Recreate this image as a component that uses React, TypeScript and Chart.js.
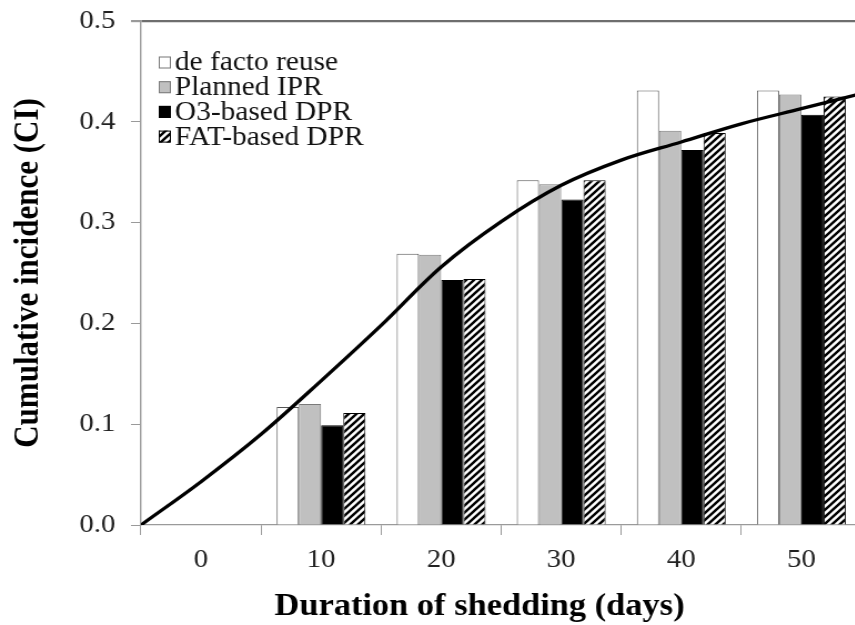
import React, { useEffect, useRef } from "react";
import { Chart, registerables } from "chart.js";

Chart.register(...registerables);

const categories = ["0", "10", "20", "30", "40", "50"];
const categoryDays = [0, 10, 20, 30, 40, 50];
const deFacto = [null, 0.117, 0.269, 0.342, 0.431, 0.431];
const plannedIPR = [null, 0.12, 0.268, 0.338, 0.391, 0.427];
const o3DPR = [null, 0.099, 0.243, 0.323, 0.372, 0.407];
const fatDPR = [null, 0.111, 0.244, 0.342, 0.389, 0.425];

const curveDays = [-5, 0, 5, 10, 15, 20, 25, 30, 35, 40, 45, 50, 55];
const curveCI = [0, 0.043, 0.09, 0.143, 0.198, 0.256, 0.301, 0.337, 0.362, 0.38, 0.398, 0.413, 0.428];

const yTicks = [0, 0.1, 0.2, 0.3, 0.4, 0.5];
const seriesNames = ["de facto reuse", "Planned IPR", "O3-based DPR", "FAT-based DPR"];
const xTitle = "Duration of shedding (days)";
const yTitle = "Cumulative incidence (CI)";

const STRETCH = 1.11;
const CW = 784;
const CH = 625;
const SERIF = "'Liberation Serif', 'Times New Roman', serif";

function makeHatch(): CanvasPattern | string {
  const c = document.createElement("canvas");
  c.width = 7;
  c.height = 7;
  const g = c.getContext("2d");
  if (!g) return "#888";
  g.fillStyle = "#fff";
  g.fillRect(0, 0, 7, 7);
  g.strokeStyle = "#000";
  g.lineWidth = 2.4;
  g.beginPath();
  g.moveTo(-2, 9);
  g.lineTo(9, -2);
  g.moveTo(-2, 2);
  g.lineTo(2, -2);
  g.moveTo(5, 9);
  g.lineTo(9, 5);
  g.stroke();
  const p = g.createPattern(c, "repeat");
  return p || "#888";
}

export default function App() {
  const ref = useRef<HTMLCanvasElement | null>(null);

  useEffect(() => {
    if (!ref.current) return;
    const hatch = makeHatch();
    const fills: any[] = ["#ffffff", "#c0c0c0", "#000000", hatch];
    const borders = ["#555555", "#7a7a7a", "#000000", "#000000"];

    const legendPlugin = {
      id: "boxLegend",
      afterDraw(chart: any) {
        const ctx = chart.ctx;
        ctx.save();
        ctx.font = `26.5px ${SERIF}`;
        ctx.textBaseline = "middle";
        ctx.textAlign = "left";
        for (let i = 0; i < seriesNames.length; i++) {
          const cy = 62.5 + i * 24.7;
          const bx = 143;
          const bw = 11;
          const bh = 12;
          ctx.fillStyle = fills[i];
          ctx.fillRect(bx, cy - bh / 2, bw, bh);
          ctx.lineWidth = 1;
          ctx.strokeStyle = i === 0 ? "#777" : borders[i];
          ctx.strokeRect(bx + 0.5, cy - bh / 2 + 0.5, bw - 1, bh - 1);
          ctx.fillStyle = "#111";
          ctx.fillText(seriesNames[i], 157.5, cy + 1);
        }
        // x-axis title
        ctx.font = `bold 31px ${SERIF}`;
        ctx.fillStyle = "#000";
        ctx.textAlign = "center";
        ctx.fillText(xTitle, 432, 607);
        ctx.restore();
      },
    };

    const seriesVals = [deFacto, plannedIPR, o3DPR, fatDPR];
    const barDs = seriesVals.map((vals, i) => ({
      type: "bar" as const,
      label: seriesNames[i],
      data: categoryDays
        .map((d, k) => ({ x: d, y: vals[k] }))
        .filter((p) => p.y !== null),
      backgroundColor: fills[i],
      borderColor: borders[i],
      borderWidth: 1,
      xAxisID: "xLin",
      yAxisID: "y",
      order: 2,
      categoryPercentage: 0.74,
      barPercentage: 1.0,
    }));

    const lineDs = {
      type: "line" as const,
      label: "CI curve",
      data: curveDays.map((d, i) => ({ x: d, y: curveCI[i] })),
      borderColor: "#000",
      borderWidth: 3.3,
      pointRadius: 0,
      fill: false,
      tension: 0.35,
      xAxisID: "xLin",
      yAxisID: "y",
      order: 0,
    };

    const chart = new Chart(ref.current, {
      type: "bar",
      data: {
        labels: categories,
        datasets: [...barDs, lineDs] as any,
      },
      plugins: [legendPlugin],
      options: {
        animation: false,
        responsive: false,
        devicePixelRatio: 1,
        layout: { padding: { top: 21, right: 8, left: 0, bottom: 0 } },
        plugins: {
          legend: { display: false },
          tooltip: { enabled: false },
        },
        scales: {
          x: {
            type: "category",
            offset: true,
            grid: {
              offset: true,
              drawOnChartArea: false,
              drawTicks: true,
              tickLength: 10,
              color: "#9a9a9a",
              tickColor: "#9a9a9a",
            },
            border: { color: "#9a9a9a", width: 1.2 },
            ticks: {
              font: { family: SERIF, size: 26 },
              color: "#222",
              padding: 10,
              maxRotation: 0,
            },
            title: { display: false },
            afterFit: (scale: any) => {
              scale.height = 100;
              scale.paddingLeft = 0;
              scale.paddingRight = 0;
            },
          } as any,
          xLin: {
            type: "linear",
            min: -5,
            max: 55,
            offset: false,
            display: false,
            grid: { offset: false },
            afterBuildTicks: (scale: any) => {
              scale.ticks = categoryDays.map((v) => ({ value: v }));
            },
          } as any,
          y: {
            min: 0,
            max: 0.5,
            afterBuildTicks: (scale: any) => {
              scale.ticks = yTicks.map((v) => ({ value: v }));
            },
            grid: {
              drawOnChartArea: true,
              tickLength: 9,
              color: (c: any) => (c.tick && Math.abs(c.tick.value - 0.5) < 1e-6 ? "#6e6e6e" : "rgba(0,0,0,0)"),
              lineWidth: (c: any) => (c.tick && Math.abs(c.tick.value - 0.5) < 1e-6 ? 2.2 : 1),
              tickColor: "#9a9a9a",
            },
            border: { color: "#9a9a9a", width: 1.4 },
            ticks: {
              font: { family: SERIF, size: 26 },
              color: "#222",
              padding: 14,
              callback: (v: any) => Number(v).toFixed(1),
            },
            title: {
              display: true,
              text: yTitle,
              font: { family: SERIF, size: 31, weight: "bold" },
              color: "#000",
              padding: { top: 7.5, bottom: 0 },
            },
            afterFit: (scale: any) => {
              scale.width = 127;
              scale.paddingTop = 0;
              scale.paddingBottom = 0;
            },
          } as any,
        },
      },
    });
    return () => chart.destroy();
  }, []);

  return (
    <div
      style={{
        position: "fixed",
        left: 0,
        top: 0,
        width: 855,
        height: 625,
        overflow: "hidden",
        background: "#fff",
      }}
    >
      <div style={{ transform: `scaleX(${STRETCH})`, transformOrigin: "0 0", width: CW, height: CH }}>
        <canvas ref={ref} width={CW} height={CH} style={{ width: CW, height: CH, display: "block" }} />
      </div>
    </div>
  );
}
